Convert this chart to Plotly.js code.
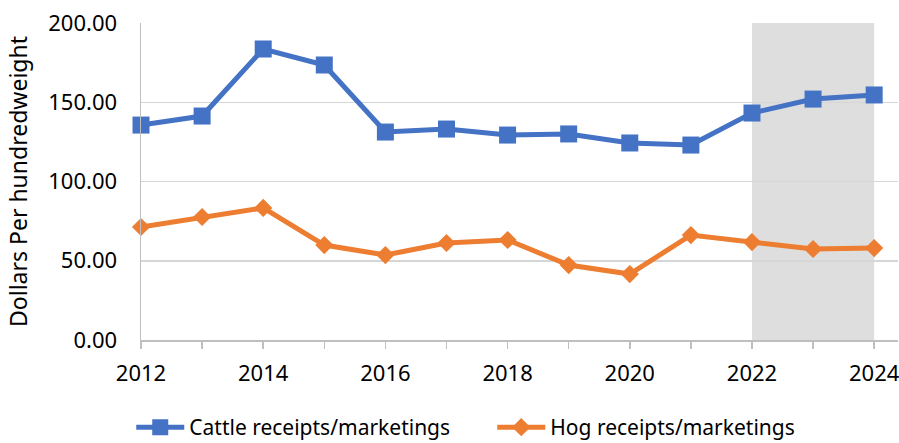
<!DOCTYPE html>
<html>
<head>
<meta charset="utf-8">
<script src="https://cdn.plot.ly/plotly-3.0.1.min.js"></script>
<style>html,body{margin:0;padding:0;background:#fff;}#chart{width:899px;height:443px;}</style>
</head>
<body>
<div id="chart"></div>
<script>
const years = [2012,2013,2014,2015,2016,2017,2018,2019,2020,2021,2022,2023,2024];
const cattle = [135.6,141.3,183.6,173.5,131.2,133.1,129.3,130.0,124.3,123.0,143.2,152.0,154.6];
const hog = [71.3,77.6,83.3,59.9,53.6,61.2,63.1,47.3,41.6,66.2,61.8,57.4,58.0];
const tickLabels = years.map(y => (y % 2 === 0 ? String(y) : ''));
const yTicks = [0,50,100,150,200];
const yTickLabels = ['0.00','50.00','100.00','150.00','200.00'];
const shadeStart = 2022, shadeEnd = 2024;

const font = "'Noto Sans', 'Open Sans', sans-serif";
const traces = [
  {x: years, y: cattle, name: 'Cattle receipts/marketings', mode: 'lines+markers', cliponaxis: false,
   line: {color: '#4472C4', width: 5}, marker: {symbol: 'square', size: 17, color: '#4472C4'}},
  {x: years, y: hog, name: 'Hog receipts/marketings', mode: 'lines+markers', cliponaxis: false,
   line: {color: '#ED7D31', width: 5}, marker: {symbol: 'diamond', size: 14, color: '#ED7D31'}}
];
const layout = {
  width: 899, height: 443,
  margin: {l: 141, r: 1, t: 23, b: 103, autoexpand: false},
  paper_bgcolor: '#fff', plot_bgcolor: '#fff',
  font: {family: font, size: 20, color: '#000'},
  showlegend: true,
  legend: {orientation: 'h', x: 0.464, xanchor: 'center', yref: 'container', y: 0.035, yanchor: 'middle',
           font: {size: 21}, itemwidth: 48, entrywidth: 298, tracegroupgap: 0},
  xaxis: {range: [2012, 2024.39], tickvals: years, ticktext: tickLabels,
          ticks: 'outside', ticklen: 7, tickcolor: '#bfbfbf', tickwidth: 1.5,
          showline: true, linecolor: '#bfbfbf', linewidth: 1.5, showgrid: false, zeroline: false,
          ticklabelstandoff: 6, ticklabeloverflow: 'allow', tickfont: {size: 22}},
  yaxis: {range: [0, 200], tickvals: yTicks, ticktext: yTickLabels,
          showgrid: true, gridcolor: '#d6d6d6', gridwidth: 1.5, zeroline: false,
          showline: true, linecolor: '#bfbfbf', linewidth: 1.5, ticks: '',
          ticklabelstandoff: 18, tickfont: {size: 22},
          title: {text: 'Dollars Per hundredweight', font: {size: 23}, standoff: 14}},
  shapes: [{type: 'rect', xref: 'x', yref: 'paper', x0: shadeStart, x1: shadeEnd, y0: 0, y1: 1,
            fillcolor: '#dedede', line: {width: 0}, layer: 'below'}]
};
Plotly.newPlot('chart', traces, layout, {displayModeBar: false, staticPlot: true});
</script>
</body>
</html>
